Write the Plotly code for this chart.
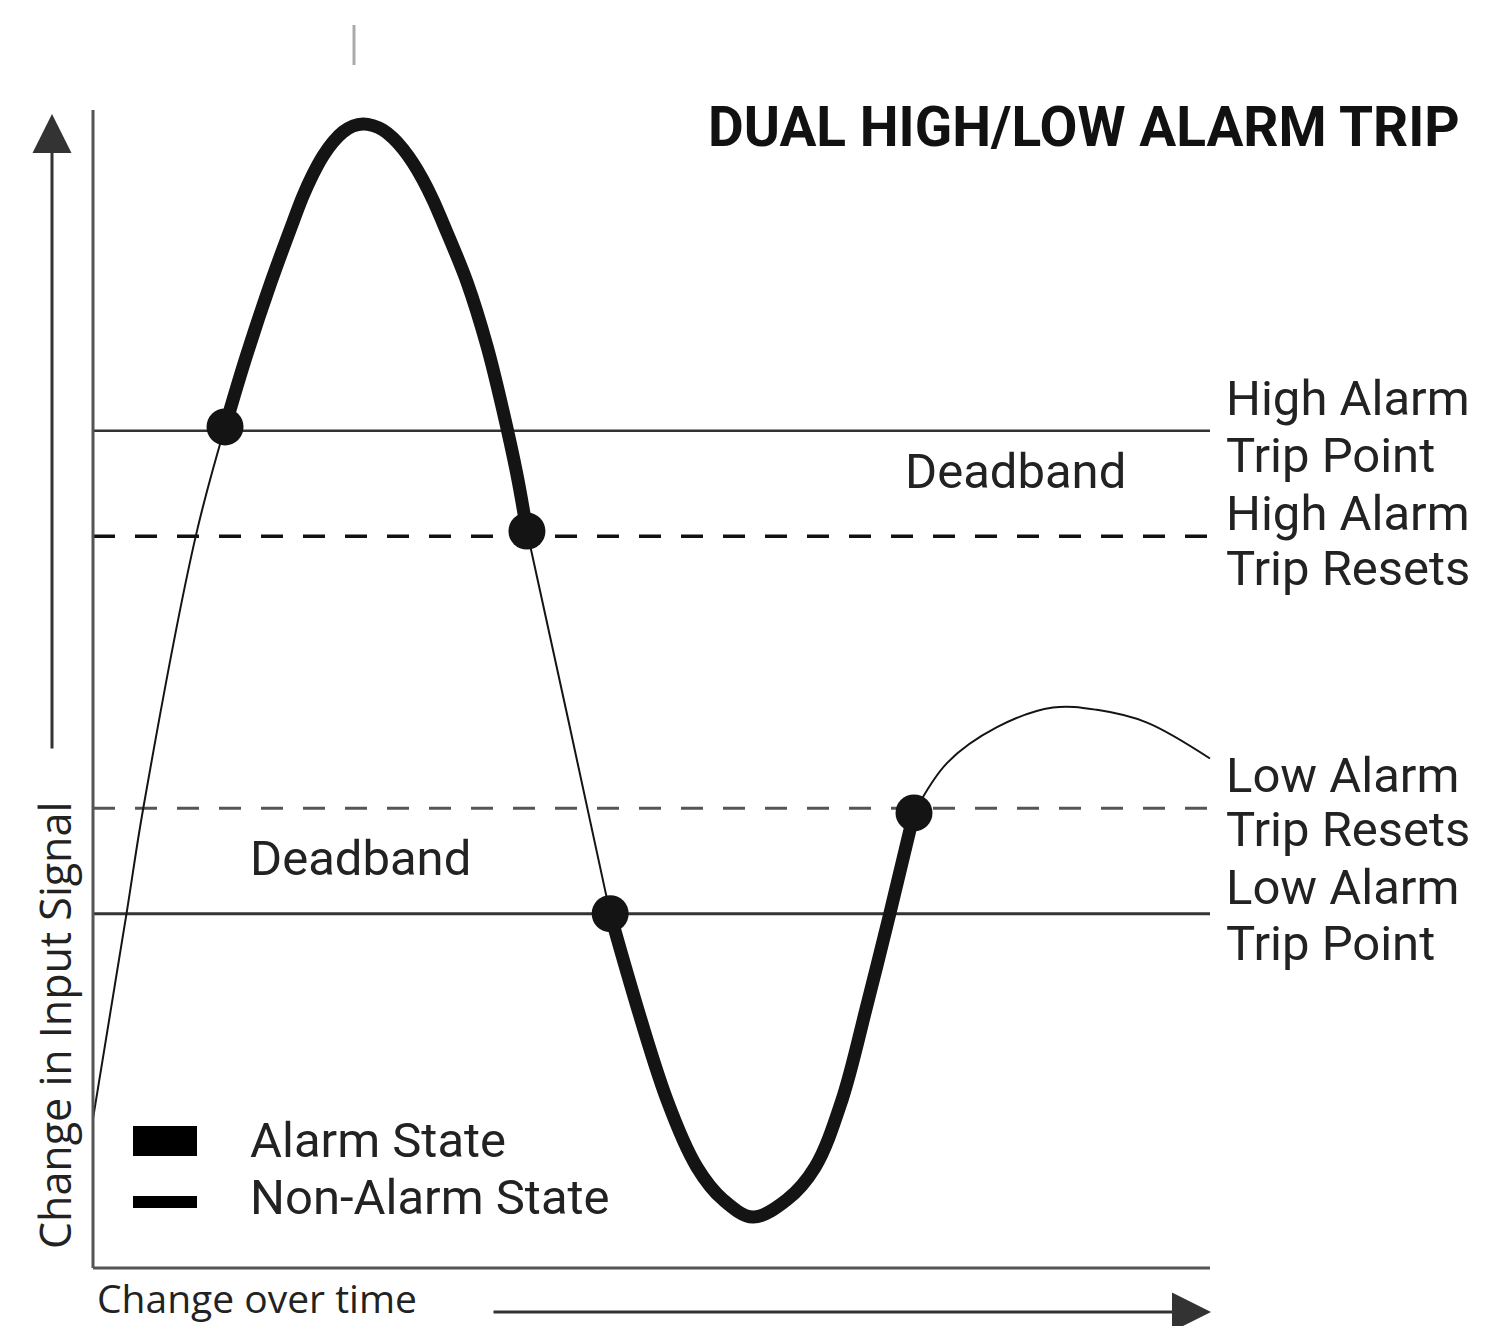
import plotly.graph_objects as go

W, H = 1510, 1326
OFF = 8  # page body margin of the html page
# drawing frame: time 0..100 -> screen x 93..1210, signal 0..100 -> screen y 1268..110
X0, X1 = 93, 1210
Y0, Y1 = 1268, 110
SX = (X1 - X0) / 100.0
SY = (Y0 - Y1) / 100.0

# ---- data (time, signal units) ----
high_trip = 72.3
high_reset = 63.2
low_reset = 39.7
low_trip = 30.6

# non-alarm rise
rise_t = [0.0, 3.0, 4.5, 9.2, 11.82]
rise_s = [12.9, 30.6, 39.7, 63.2, 72.63]
# high alarm (thick)
high_t = [11.82, 13.70, 15.94, 17.91, 18.80, 19.70, 20.59, 21.49, 22.38, 23.28, 24.17,
          25.07, 25.96, 26.86, 27.75, 28.65, 29.54, 30.44, 31.33, 33.48, 35.27, 36.71, 37.96, 38.85]
high_s = [72.63, 78.67, 85.15, 90.33, 92.57, 94.47, 96.03, 97.24, 98.10, 98.62, 98.79,
          98.65, 98.27, 97.58, 96.63, 95.42, 93.96, 92.23, 90.24, 85.15, 79.62, 74.01, 68.48, 63.64]
# non-alarm fall
fall_t = [38.85, 42.6, 46.3]
fall_s = [63.64, 47.1, 30.6]
# low alarm (thick)
low_t = [46.3, 51.39, 54.07, 56.40, 59.09, 62.13, 64.64, 67.05, 69.29, 71.35, 73.5]
low_s = [30.6, 14.5, 8.7, 5.9, 4.4, 5.9, 8.7, 14.5, 22.7, 30.66, 39.3]
# non-alarm recovery
rec_t = [73.5, 76.45, 80.93, 85.94, 89.88, 94.36, 100.0]
rec_s = [39.3, 43.6, 46.7, 48.4, 48.2, 47.1, 44.0]
# trip / reset events
event_t = [11.82, 38.85, 46.3, 73.5]
event_s = [72.63, 63.64, 30.6, 39.3]

right_labels = ["High Alarm", "Trip Point", "High Alarm", "Trip Resets",
                "Low Alarm", "Trip Resets", "Low Alarm", "Trip Point"]
legend_labels = ["Alarm State", "Non-Alarm State"]

INK = "#141414"

fig = go.Figure()

def seg(t, s, w):
    fig.add_trace(go.Scatter(x=t, y=s, mode="lines",
                             line=dict(color=INK, width=w, shape="spline", smoothing=1.0),
                             hoverinfo="skip", showlegend=False))

seg(rise_t, rise_s, 2)
seg(high_t, high_s, 13)
seg(fall_t, fall_s, 2)
seg(low_t, low_s, 13)
seg(rec_t, rec_s, 2)
fig.add_trace(go.Scatter(x=event_t, y=event_s, mode="markers",
                         marker=dict(color=INK, size=37, line=dict(width=0)),
                         hoverinfo="skip", showlegend=False))

# reference lines
fig.add_shape(type="line", x0=0, x1=100, y0=high_trip, y1=high_trip, line=dict(color="#333", width=2.5), layer="below")
fig.add_shape(type="line", x0=0, x1=100, y0=high_reset, y1=high_reset, line=dict(color="#111", width=3.5, dash="22px,20px"), layer="below")
fig.add_shape(type="line", x0=0, x1=100, y0=low_reset, y1=low_reset, line=dict(color="#555", width=2.8, dash="22px,20px"), layer="below")
fig.add_shape(type="line", x0=0, x1=100, y0=low_trip, y1=low_trip, line=dict(color="#333", width=3), layer="below")

# frame axes
fig.add_shape(type="line", x0=0, x1=0, y0=0, y1=100, line=dict(color="#555", width=3))
fig.add_shape(type="line", x0=0, x1=100, y0=0, y1=0, line=dict(color="#555", width=3))

def px(x):
    return (x - OFF) / W
def py(y):
    return 1 - (y - OFF) / H

# small mark at top
fig.add_shape(type="line", xref="paper", yref="paper", x0=px(354), x1=px(354), y0=py(25), y1=py(65),
              line=dict(color="#aaa", width=3))

# legend swatches
fig.add_shape(type="rect", xref="paper", yref="paper", x0=px(133), x1=px(197), y0=py(1156), y1=py(1126),
              fillcolor="#000", line=dict(width=0))
fig.add_shape(type="rect", xref="paper", yref="paper", x0=px(133), x1=px(197), y0=py(1208), y1=py(1196),
              fillcolor="#000", line=dict(width=0))

ann = []
def text(t, x, y, size, xanchor="left", bold=False, family="Roboto", angle=0, color="#222"):
    ann.append(dict(text=f"<b>{t}</b>" if bold else t, x=px(x), y=py(y), xref="paper", yref="paper",
                    xanchor=xanchor, yanchor="middle", showarrow=False, textangle=angle,
                    font=dict(family=family, size=size, color=color)))

text("DUAL HIGH/LOW ALARM TRIP", 1462, 127, 55, xanchor="right", bold=True, color="#111")
rl_y = [398, 455, 513, 568, 775, 829, 887, 943]
for lab, y in zip(right_labels, rl_y):
    text(lab, 1224, y, 49)
text("Deadband", 903, 472, 49)
text("Deadband", 248, 858, 49)
text(legend_labels[0], 248, 1140, 49)
text(legend_labels[1], 248, 1197, 49)
text("Change in Input Signal", 54, 1026, 43, xanchor="center", family="Open Sans", angle=-90)
text("Change over time", 95, 1297, 39, family="Open Sans")

# axis arrows
ann.append(dict(x=px(52), y=py(114), ax=0, ay=750 - 114, xref="paper", yref="paper",
                axref="pixel", ayref="pixel", showarrow=True, arrowhead=2, arrowsize=2.6,
                arrowwidth=3, arrowcolor="#333", text=""))
ann.append(dict(x=px(1211), y=py(1312), ax=492 - 1211, ay=0, xref="paper", yref="paper",
                axref="pixel", ayref="pixel", showarrow=True, arrowhead=2, arrowsize=2.6,
                arrowwidth=3, arrowcolor="#333", text=""))

fig.update_layout(
    width=W, height=H, margin=dict(l=0, r=0, t=0, b=0),
    paper_bgcolor="white", plot_bgcolor="white",
    xaxis=dict(range=[-(X0 - OFF) / SX, (W - (X0 - OFF)) / SX], visible=False, fixedrange=True),
    yaxis=dict(range=[(Y0 - OFF - H) / SY, (Y0 - OFF) / SY], visible=False, fixedrange=True),
    annotations=ann, showlegend=False,
)

fig.write_html("out.html")
